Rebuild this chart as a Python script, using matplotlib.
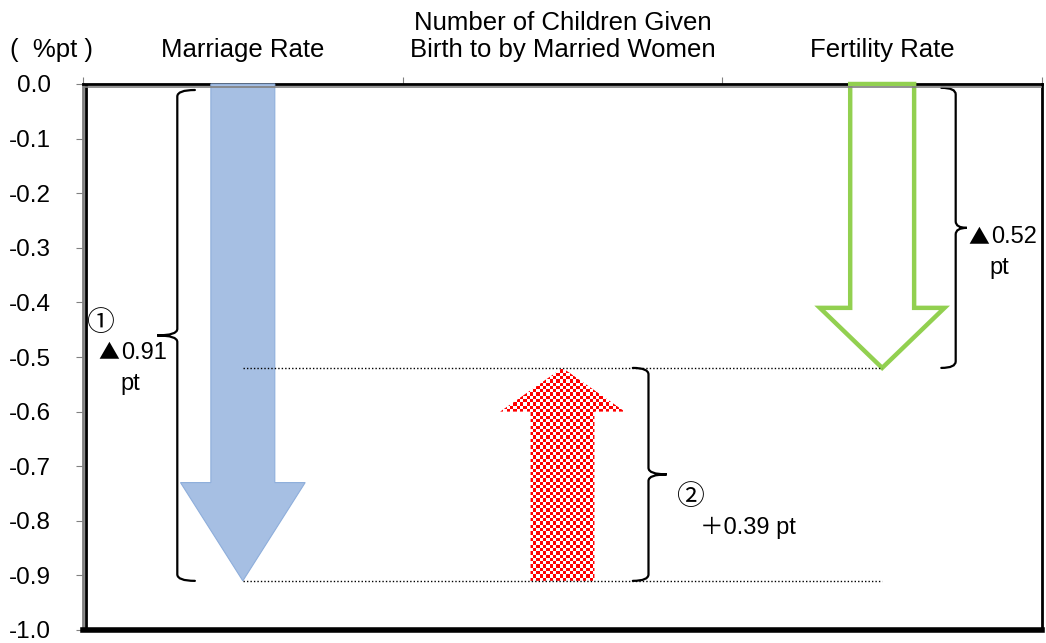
import numpy as np
import matplotlib.pyplot as plt
from matplotlib.patches import Polygon, PathPatch
from matplotlib.path import Path
from matplotlib.colors import to_rgb

plt.rcParams['font.family'] = ['Liberation Sans', 'Noto Sans CJK JP', 'DejaVu Sans']
plt.rcParams['font.size'] = 17

# contribution of each factor to the change in the fertility rate (%pt)
categories = ['Marriage Rate', 'Number of Children Given\nBirth to by Married Women', 'Fertility Rate']
changes = [-0.91, 0.39]
total = round(sum(changes), 2)
factor_marks = ['①', '②']
y_ticks = [0.0, -0.1, -0.2, -0.3, -0.4, -0.5, -0.6, -0.7, -0.8, -0.9, -1.0]

# arrow looks
shaft_w = 0.2
head_w = 0.39
head_len = [0.18, 0.08, 0.11]
CJK = ['Noto Sans CJK JP', 'DejaVu Sans']


def sign_of(v):
    return '▲' if v < 0 else '＋'


def arrow_poly(xc, y0, y1, hl):
    d = np.sign(y1 - y0)
    yb = y1 - d * hl
    return [(xc - shaft_w / 2, y0), (xc - shaft_w / 2, yb), (xc - head_w / 2, yb),
            (xc, y1), (xc + head_w / 2, yb), (xc + shaft_w / 2, yb), (xc + shaft_w / 2, y0)]


def brace(ax, x, y0, y1, tip, end):
    # curly brace running from y0 to y1 at x, cusp pointing to tip, ends curling to end
    ym = (y0 + y1) / 2
    r = 0.012 * np.sign(y0 - y1)
    verts = [(end, y0), (x, y0), (x, y0 - r),
             (x, ym + r), (x, ym), (tip, ym),
             (x, ym), (x, ym - r),
             (x, y1 + r), (x, y1), (end, y1)]
    codes = [Path.MOVETO, Path.CURVE3, Path.CURVE3,
             Path.LINETO, Path.CURVE3, Path.CURVE3,
             Path.CURVE3, Path.CURVE3,
             Path.LINETO, Path.CURVE3, Path.CURVE3]
    ax.add_patch(PathPatch(Path(verts, codes), fill=False, lw=1.6, ec='black', capstyle='round'))


def change_label(ax, xs, xn, xpt, y, v):
    # triangle / plus sign, the figure, then "pt" on the next line
    ax.text(xs, y, sign_of(v), ha='center', va='center', family=CJK, fontsize=15)
    ax.text(xn, y, '%.2f' % abs(v), ha='left', va='center')
    ax.text(xpt, y - 0.057, 'pt', ha='center', va='center')


fig = plt.figure(figsize=(10.46, 6.43), dpi=100)
ax = fig.add_axes([83 / 1046, 1 - 630 / 643, 959 / 1046, 546 / 643])
ax.set_xlim(0, 3)
ax.set_ylim(-1.0, 0.0)

starts = [0.0, changes[0], 0.0]
ends = [changes[0], changes[0] + changes[1], total]
xs = [0.5, 1.5, 2.5]

# marriage rate: solid light blue arrow
p0 = Polygon(arrow_poly(xs[0], starts[0], ends[0], head_len[0]), closed=True,
             fc='#a6bfe3', ec='#8eaedb', lw=0.8, zorder=3, clip_on=False)
ax.add_patch(p0)

# married women's births: red/white check arrow
p1 = Polygon(arrow_poly(xs[1], starts[1], ends[1], head_len[1]), closed=True,
             fc='none', ec='none', zorder=3)
ax.add_patch(p1)
cx = 3.3 / 319.7
cy = 3.3 / 546
x_lo, x_hi = xs[1] - head_w / 2, xs[1] + head_w / 2
y_lo, y_hi = min(starts[1], ends[1]), max(starts[1], ends[1])
nx = int(np.ceil((x_hi - x_lo) / cx))
ny = int(np.ceil((y_hi - y_lo) / cy))
ii, jj = np.meshgrid(np.arange(nx), np.arange(ny))
check = ((ii + jj) % 2).astype(float)
rgb = np.ones((ny, nx, 3))
rgb[check == 1] = to_rgb('#ff0000')
im = ax.imshow(rgb, extent=(x_lo, x_lo + nx * cx, y_lo, y_lo + ny * cy), origin='lower',
               aspect='auto', interpolation='nearest', zorder=3)
im.set_clip_path(p1)

# fertility rate: green outlined arrow
p2 = Polygon(arrow_poly(xs[2], starts[2], ends[2], head_len[2]), closed=True,
             fc='white', ec='#92d050', lw=3.2, joinstyle='miter', zorder=3, clip_on=False)
ax.add_patch(p2)

# dotted guides at the two levels
for lvl in (ends[1], ends[0]):
    ax.plot([xs[0], xs[2]], [lvl, lvl], ls=(0, (1, 1.5)), color='black', lw=1, zorder=4)

# braces with their labels
brace(ax, 0.295, -0.011, ends[0], 0.232, 0.35)
ax.text(0.053, -0.437, factor_marks[0], ha='center', va='center', family=CJK, fontsize=20)
change_label(ax, 0.080, 0.118, 0.147, -0.492, changes[0])

brace(ax, 1.769, ends[1], ends[0], 1.826, 1.72)
ax.text(1.899, -0.757, factor_marks[1], ha='center', va='center', family=CJK, fontsize=20)
ax.text(2.08, -0.813, sign_of(changes[1]) + '%.2f pt' % changes[1], ha='center', va='center')

brace(ax, 2.73, -0.007, total, 2.765, 2.685)
change_label(ax, 2.802, 2.84, 2.868, -0.28, total)

# axes frame
for s in ('top', 'right'):
    ax.spines[s].set_linewidth(2)
ax.spines['bottom'].set_linewidth(4)
ax.spines['left'].set_color('#808080')
ax.spines['left'].set_linewidth(2)
ax.axvline(0.0035 * 3, color='black', lw=2, zorder=5)
ax.axhline(-0.006, color='#808080', lw=1.2, zorder=5)

ax.set_yticks(y_ticks)
ax.set_yticklabels(['%.1f' % (v + 0.0) for v in y_ticks])
ax.tick_params(axis='y', direction='out', length=5, color='#808080', pad=18, labelsize=17.5)

ax.xaxis.tick_top()
ax.set_xticks([0, 1, 2, 3])
ax.set_xticklabels([])
ax.set_xticks(xs, minor=True)
ax.set_xticklabels(categories, minor=True, fontsize=18.5, linespacing=1.15)
ax.tick_params(axis='x', which='major', direction='out', length=5, color='#808080')
ax.tick_params(axis='x', which='minor', length=0, pad=16)

fig.text(52 / 1046, 1 - 50 / 643, '(  %pt )', ha='center', va='center', fontsize=18.5)

fig.savefig('out.png', dpi=100)
